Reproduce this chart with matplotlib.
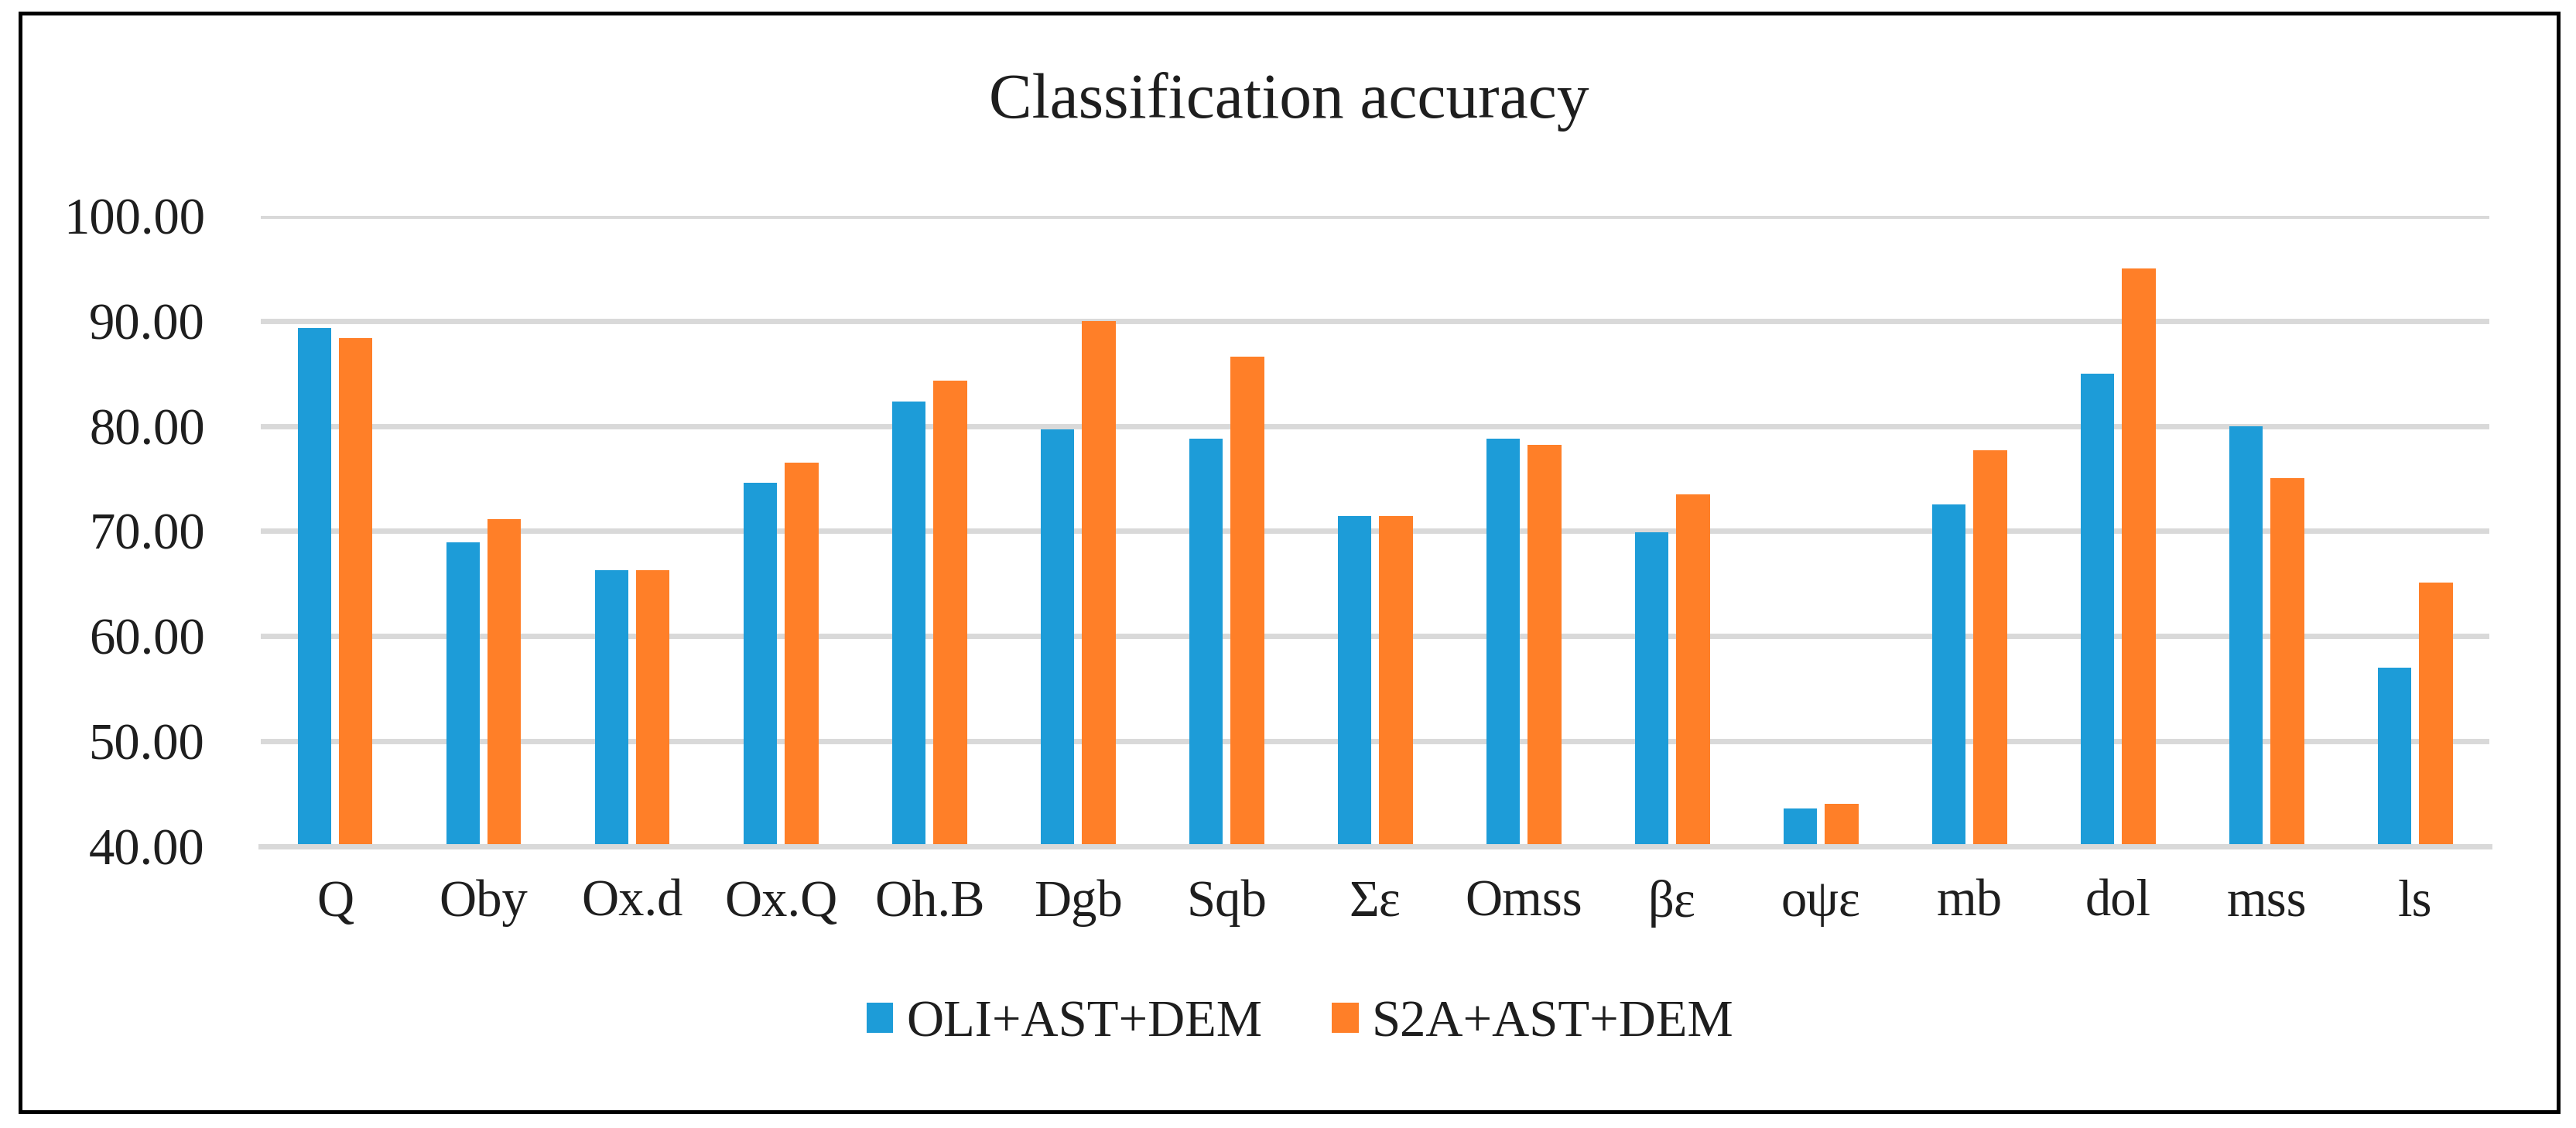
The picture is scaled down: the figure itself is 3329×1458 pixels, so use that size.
import matplotlib.pyplot as plt
import numpy as np
from matplotlib.patches import Rectangle

FIG_SIZE = (33.3, 14.58)
DPI = 100
FONT = "Liberation Serif"
TICK_SIZE = 48
TITLE_SIZE = 60

units = ["Q", "Oby", "Ox.d", "Ox.Q", "Oh.B", "Dgb", "Sqb", "Σε", "Omss",
         "βε", "οψε", "mb", "dol", "mss", "ls"]
oli_ast_dem = [89.3, 68.9, 66.3, 74.6, 82.3, 79.7, 78.8, 71.4, 78.8,
               69.9, 43.6, 72.5, 85.0, 80.0, 57.0]
s2a_ast_dem = [88.4, 71.1, 66.3, 76.5, 84.3, 90.0, 86.6, 71.4, 78.2,
               73.5, 44.0, 77.7, 95.0, 75.0, 65.1]
series_names = ["OLI+AST+DEM", "S2A+AST+DEM"]
y_ticks = [40, 50, 60, 70, 80, 90, 100]

BLUE = "#1d9cd8"
ORANGE = "#ff7f28"
GRID = "#d9d9d9"
TEXT = "#1e1e1e"

plt.rcParams["font.family"] = [FONT, "DejaVu Serif"]

fig = plt.figure(figsize=FIG_SIZE, dpi=DPI)
ax = fig.add_axes([0.1012, 0.2500, 0.8649, 0.5585])

x = np.arange(len(units))
width = 0.227
offset = 0.139
ax.bar(x - offset, np.array(oli_ast_dem) - 40, width, bottom=40,
       color=BLUE, label=series_names[0], zorder=2)
ax.bar(x + offset, np.array(s2a_ast_dem) - 40, width, bottom=40,
       color=ORANGE, label=series_names[1], zorder=2)

ax.set_xlim(-0.5, len(units) - 0.5)
ax.set_ylim(40, 100)
ax.set_yticks(y_ticks)
ax.set_yticklabels(["{:.2f}".format(v) for v in y_ticks])
ax.set_xticks(x)
ax.set_xticklabels(units)
ax.tick_params(axis="y", length=0, pad=52, labelsize=TICK_SIZE, colors=TEXT)
ax.tick_params(axis="x", length=0, pad=31, labelsize=TICK_SIZE, colors=TEXT)

ax.grid(axis="y", color=GRID, linewidth=5, zorder=0)
ax.set_axisbelow(True)
for side in ["left", "right", "top"]:
    ax.spines[side].set_visible(False)
ax.spines["bottom"].set_color(GRID)
ax.spines["bottom"].set_linewidth(5)
ax.spines["bottom"].set_zorder(3)

fig.text(0.5003, 0.8960, "Classification accuracy", ha="center", va="baseline",
         fontsize=TITLE_SIZE, color=TEXT)

handles, labels = ax.get_legend_handles_labels()
fig.legend(handles, labels, loc="center", bbox_to_anchor=(0.5045, 0.0926),
           ncol=2, frameon=False, fontsize=TICK_SIZE, handlelength=0.52,
           handleheight=0.52, handletextpad=0.25, columnspacing=1.35,
           labelcolor=TEXT)

# outer frame
fig.patches.append(Rectangle((26 / 3330, 1 - 1437 / 1458), (3306 - 26) / 3330,
                             (1437 - 17) / 1458, transform=fig.transFigure,
                             fill=False, edgecolor="black", linewidth=3.6))

plt.savefig("out.png", dpi=DPI)
